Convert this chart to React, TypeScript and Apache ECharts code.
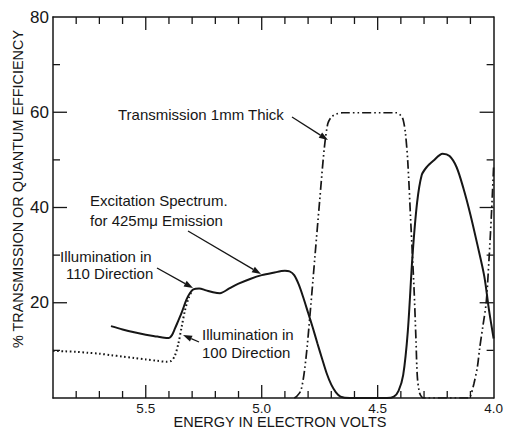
import React, { useEffect, useRef } from "react";
import * as echarts from "echarts";

// Excitation spectrum for 425 mμ emission, illumination in 110 direction (solid)
const excitationEnergy = [
  5.65, 5.6, 5.55, 5.5, 5.45, 5.42, 5.4, 5.387, 5.374, 5.36, 5.346, 5.325, 5.31, 5.295, 5.27,
  5.24, 5.21, 5.18, 5.14, 5.1, 5.05, 5.0, 4.95, 4.9, 4.88, 4.86, 4.84, 4.82, 4.8, 4.78, 4.76,
  4.74, 4.72, 4.7, 4.68, 4.66, 4.62, 4.46, 4.43, 4.41, 4.39, 4.37, 4.35, 4.33, 4.31, 4.29,
  4.26, 4.22, 4.19, 4.16, 4.13, 4.1, 4.07, 4.04, 4.02, 4.0,
];
const excitationValue = [
  15.1, 14.4, 13.8, 13.3, 12.9, 12.65, 12.6, 13.2, 14.6, 16.2, 17.8, 20.6, 22.0, 22.8, 23.0,
  22.6, 22.2, 22.0, 23.0, 24.0, 25.0, 25.8, 26.3, 26.7, 26.6, 25.8, 23.8, 21.0, 17.9, 14.8, 11.5,
  8.3, 5.2, 2.8, 1.2, 0.3, 0, 0, 0.3, 1.5, 4.8, 14.0, 29.7, 41.0, 46.8, 48.4,
  49.8, 51.3, 50.8, 48.5, 44.0, 38.5, 32.2, 25.5, 18.5, 12.5,
];

// Illumination in 100 direction (dotted), joins the solid curve near 5.30 eV
const dottedEnergy = [
  5.9, 5.85, 5.8, 5.75, 5.7, 5.65, 5.6, 5.55, 5.5, 5.45, 5.41, 5.39, 5.375, 5.36, 5.345, 5.33,
  5.315, 5.3,
];
const dottedValue = [
  9.9, 9.8, 9.7, 9.5, 9.3, 9.0, 8.7, 8.4, 8.1, 7.8, 7.6, 7.8, 8.8, 11.3, 15.0, 18.6, 21.0, 22.6,
];

// Transmission of a 1 mm thick crystal (dash-dot-dot)
const transmissionEnergy = [
  4.86, 4.85, 4.83, 4.81, 4.79, 4.77, 4.75, 4.73, 4.715, 4.7, 4.68, 4.65, 4.42, 4.4, 4.39,
  4.38, 4.37, 4.357, 4.343, 4.335, 4.329, 4.32, 4.31, 4.3, 4.11, 4.1, 4.085, 4.07, 4.06,
  4.045, 4.032, 4.02, 4.01, 4.0,
];
const transmissionValue = [
  0, 0.3, 1.7, 8.0, 18.5, 30.0, 41.5, 52.5, 57.6, 59.0, 59.6, 59.9, 59.9, 59.3, 58.4,
  55.5, 49.5, 36.7, 22.7, 12.5, 4.5, 1.2, 0.2, 0, 0, 0.4, 3.0, 6.5, 10.5,
  15.5, 20.0, 29.0, 38.0, 48.5,
];

const energyMin = 4.0;
const energyMax = 5.9;
const energyStep = 0.5;
const efficiencyMax = 80;
const efficiencyStep = 20;

// frame tick marks (inward, on all four sides)
const energyTicks = [4.1, 4.2, 4.3, 4.4, 4.5, 4.6, 4.7, 4.8, 4.9, 5.0, 5.1, 5.2, 5.3, 5.4, 5.5, 5.6, 5.7, 5.8];
const energyMajorTicks = [4.5, 5.0, 5.5];
const efficiencyTicks = [10, 20, 30, 40, 50, 60, 70];
const efficiencyMajorTicks = [20, 40, 60];

const FONT = "'Liberation Sans', Arial, sans-serif";
const INK = "#161616";

const zip = (xs: number[], ys: number[]) => xs.map((x, i) => [x, ys[i]]);

function arrow(x1: number, y1: number, x2: number, y2: number) {
  const ang = Math.atan2(y2 - y1, x2 - x1);
  const len = 9;
  const half = 3.2;
  const bx = x2 - len * Math.cos(ang);
  const by = y2 - len * Math.sin(ang);
  const nx = -Math.sin(ang);
  const ny = Math.cos(ang);
  return [
    {
      type: "line",
      shape: { x1, y1, x2: bx, y2: by },
      style: { stroke: INK, lineWidth: 1.3 },
    },
    {
      type: "polygon",
      shape: {
        points: [
          [x2, y2],
          [bx + nx * half, by + ny * half],
          [bx - nx * half, by - ny * half],
        ],
      },
      style: { fill: INK },
    },
  ];
}

function label(text: string, x: number, y: number, size = 15) {
  return {
    type: "text",
    x,
    y,
    style: {
      text,
      fill: INK,
      font: `${size}px ${FONT}`,
      textAlign: "left",
      textVerticalAlign: "middle",
    },
  };
}

function tick(x1: number, y1: number, x2: number, y2: number) {
  return {
    type: "line",
    shape: { x1, y1, x2, y2 },
    style: { stroke: INK, lineWidth: 1.3 },
    z: 10,
  };
}

function frameAxis(isEnergy: boolean, position: string) {
  return {
    type: "value",
    position,
    inverse: isEnergy,
    min: isEnergy ? energyMin : 0,
    max: isEnergy ? energyMax : efficiencyMax,
    interval: isEnergy ? energyStep : efficiencyStep,
    axisLine: { show: true, onZero: false, lineStyle: { color: INK, width: 1.5 } },
    axisTick: { show: false },
    minorTick: { show: false },
    axisLabel: { show: false },
    splitLine: { show: false },
  };
}

export default function App() {
  const ref = useRef<HTMLDivElement>(null);

  useEffect(() => {
    document.body.style.margin = "0";
    const chart = echarts.init(ref.current!, null, { renderer: "svg" });

    const bottom: any = frameAxis(true, "bottom");
    bottom.axisLabel = {
      show: true,
      color: INK,
      fontSize: 13.5,
      fontFamily: FONT,
      margin: 3,
      showMaxLabel: false,
      formatter: (v: number) => v.toFixed(1),
    };
    const left: any = frameAxis(false, "left");
    left.axisLabel = {
      show: true,
      color: INK,
      fontSize: 17,
      fontFamily: FONT,
      margin: 4,
      showMinLabel: false,
    };

    chart.setOption({
      animation: false,
      grid: { left: 53, right: 5, top: 17, bottom: 31 },
      xAxis: [bottom, frameAxis(true, "top")],
      yAxis: [left, frameAxis(false, "right")],
      series: [
        {
          name: "Illumination in 110 Direction",
          type: "line",
          data: zip(excitationEnergy, excitationValue),
          showSymbol: false,
          smooth: 0.3,
          lineStyle: { color: INK, width: 2 },
        },
        {
          name: "Illumination in 100 Direction",
          type: "line",
          data: zip(dottedEnergy, dottedValue),
          showSymbol: false,
          smooth: 0.3,
          lineStyle: { color: INK, width: 2, type: [1.6, 2.6] },
        },
        {
          name: "Transmission 1mm Thick",
          type: "line",
          data: zip(transmissionEnergy, transmissionValue),
          showSymbol: false,
          smooth: 0.3,
          lineStyle: { color: INK, width: 1.7, type: [9, 3, 1.6, 3, 1.6, 3] },
        },
      ],
    });

    // inward tick marks placed through the grid's own scales
    const toPx = (e: number, v: number) =>
      chart.convertToPixel({ gridIndex: 0 }, [e, v]) as number[];
    const ticks: any[] = [];
    energyTicks.forEach((e) => {
      const len = energyMajorTicks.includes(e) ? 13 : 7;
      const [x, yb] = toPx(e, 0);
      const [, yt] = toPx(e, efficiencyMax);
      ticks.push(tick(x, yb, x, yb - len), tick(x, yt, x, yt + len));
    });
    efficiencyTicks.forEach((v) => {
      const len = efficiencyMajorTicks.includes(v) ? 14 : 7;
      const [xl, y] = toPx(energyMax, v);
      const [xr] = toPx(energyMin, v);
      ticks.push(tick(xl, y, xl + len, y), tick(xr, y, xr - len, y));
    });

    chart.setOption({
      graphic: [
        ...ticks,
        label("Transmission 1mm Thick", 118, 114.5),
        ...arrow(292, 117, 328, 140),
        label("Excitation Spectrum.", 90, 200),
        label("for 425mμ Emission", 90, 220),
        ...arrow(188, 231, 261, 274),
        label("Illumination in", 60, 256),
        label("110 Direction", 66, 273),
        ...arrow(157, 268, 193, 288),
        label("Illumination in", 202, 334),
        label("100 Direction", 202, 352),
        ...arrow(199, 342, 183, 335),
        {
          type: "text",
          x: 18,
          y: 189,
          rotation: Math.PI / 2,
          style: {
            text: "% TRANSMISSION OR QUANTUM EFFICIENCY",
            fill: INK,
            font: `14.4px ${FONT}`,
            textAlign: "center",
            textVerticalAlign: "middle",
          },
        },
        {
          type: "text",
          x: 280,
          y: 422,
          style: {
            text: "ENERGY IN ELECTRON VOLTS",
            fill: INK,
            font: `14.5px ${FONT}`,
            textAlign: "center",
            textVerticalAlign: "middle",
          },
        },
      ],
    });

    return () => chart.dispose();
  }, []);

  return <div ref={ref} style={{ width: 506, height: 429 }} />;
}
